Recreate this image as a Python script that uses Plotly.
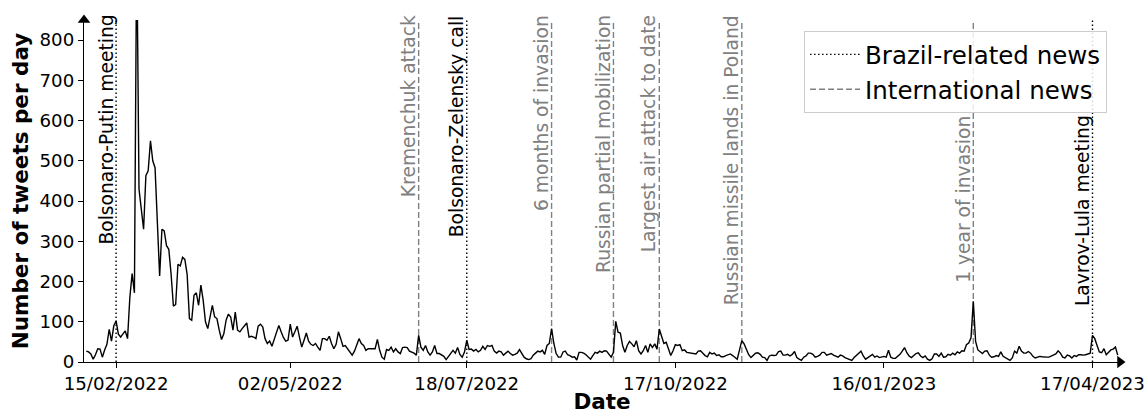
import pandas as pd
import plotly.graph_objects as go

# ---------------- data (daily tweet counts) ----------------
start_date = "2022-02-02"

tweets_feb_2022 = [27, 25, 20, 7, 18, 33, 32, 12, 30, 44, 81, 52, 90, 102, 69, 62, 70, 77, 58, 160, 220, 172]
tweets_invasion = [1050, 430, 380, 330, 463, 475, 550, 500, 483, 334, 214, 330, 326, 289, 280, 218, 139, 143,
                   243, 239, 260, 255, 218]
tweets_mar_apr_2022 = [108, 104, 166, 172, 141, 191, 153, 100, 83, 108, 141, 112, 108, 79, 56, 70, 104, 119, 112, 79,
                       124, 79, 75, 83, 91, 97, 62, 64, 62, 58, 89, 94, 87, 58, 46, 52, 39, 58, 75, 91,
                       75, 61, 52, 54, 94]
tweets_may_jun_2022 = [62, 75, 89, 62, 37, 54, 72, 52, 44, 41, 46, 37, 29, 58, 58, 54, 64, 46, 33, 44,
                       75, 58, 39, 41, 33, 27, 17, 27, 44, 58, 46, 41, 29, 33, 33, 33, 33, 56, 29]
tweets_jun_aug_2022 = [12, 7, 31, 29, 37, 25, 33, 25, 21, 36, 37, 36, 27, 25, 22, 17, 66, 37, 29, 41,
                       25, 17, 25, 41, 21, 21, 17, 14, 6, 14, 22, 29, 22, 36, 19, 12, 25, 54, 31, 32,
                       27, 31, 25, 29, 39, 31, 41, 39, 41, 27, 22, 27, 25, 17, 22, 27, 21, 17, 19, 22,
                       31, 21, 12, 8, 6, 8, 17, 22, 27, 25, 29, 19, 41, 46, 83, 46, 21, 12, 12, 25]
tweets_sep_nov_2022 = [27, 18, 16, 12, 13, 5, 24, 24, 22, 18, 12, 7, 16, 24, 22, 27, 24, 28, 27, 20,
                       12, 24, 101, 74, 72, 41, 24, 41, 51, 45, 38, 53, 28, 20, 28, 41, 24, 45, 36, 45,
                       32, 82, 61, 46, 49, 32, 16, 28, 43, 41, 43, 28, 30, 24, 23, 22, 20, 20, 27, 28,
                       22, 16, 13, 24, 20, 22, 16, 18, 13, 13, 16, 18, 20, 16, 12, 7, 30, 53, 45, 32, 18]
tweets_nov_2022_feb_2023 = [11, 17, 22, 23, 19, 12, 11, 4, 15, 17, 16, 17, 26, 27, 17, 17, 19, 15, 19, 26,
                            11, 7, 4, 12, 15, 22, 22, 19, 12, 14, 17, 24, 24, 17, 19, 21, 17, 15, 12, 17,
                            15, 11, 9, 7, 4, 11, 17, 23, 27, 15, 7, 11, 14, 19, 12, 15, 11, 12, 14, 12,
                            29, 12, 9, 9, 14, 19, 27, 36, 23, 15, 11, 17, 21, 23, 15, 11, 15, 7, 4, 8, 20]
tweets_feb_apr_2023 = [20, 14, 22, 12, 13, 19, 17, 22, 18, 25, 22, 28, 27, 43, 47, 60, 151, 51, 30, 25,
                       21, 27, 28, 17, 12, 13, 16, 14, 25, 14, 10, 6, 4, 10, 27, 22, 39, 27, 22, 22,
                       26, 22, 14, 10, 12, 14, 13, 12, 12, 12, 15, 16, 20, 28, 22, 12, 10, 17, 15, 10,
                       16, 14, 18, 18, 17, 18, 20, 22, 66, 58, 41, 25, 23, 33, 18, 23, 30, 32, 37, 17]

tweets = (tweets_feb_2022 + tweets_invasion + tweets_mar_apr_2022 + tweets_may_jun_2022
          + tweets_jun_aug_2022 + tweets_sep_nov_2022 + tweets_nov_2022_feb_2023 + tweets_feb_apr_2023)
dates = pd.date_range(start_date, periods=len(tweets), freq="D")

tick_dates = ["2022-02-15", "2022-05-02", "2022-07-18", "2022-10-17", "2023-01-16", "2023-04-17"]
tick_labels = ["15/02/2022", "02/05/2022", "18/07/2022", "17/10/2022", "16/01/2023", "17/04/2023"]
y_ticks = [0, 100, 200, 300, 400, 500, 600, 700, 800]

event_dates = ["2022-02-15", "2022-06-27", "2022-07-18", "2022-08-24", "2022-09-20",
               "2022-10-10", "2022-11-15", "2023-02-24", "2023-04-17"]
event_labels = ["Bolsonaro-Putin meeting", "Kremenchuk attack", "Bolsonaro-Zelensky call",
                "6 months of invasion", "Russian partial mobilization", "Largest air attack to date",
                "Russian missile lands in Poland", "1 year of invasion", "Lavrov-Lula meeting"]
event_kinds = ["brazil", "intl", "brazil", "intl", "intl", "intl", "intl", "intl", "brazil"]
# label tops sit at the top of the axes, except the two below the legend
event_label_top = [1.0, 1.0, 1.0, 1.0, 1.0, 1.0, 1.0, 0.706, 0.706]

x_range = ["2022-02-01", "2023-04-29"]
y_range = [0, 850]

# ---------------- styling ----------------
FONT = "DejaVu Sans"
GREY = "#808080"
kind_style = {
    "brazil": dict(color="black", dash="1.5px,2.5px", text="black", name="Brazil-related news"),
    "intl": dict(color=GREY, dash="6px,3px", text=GREY, name="International news"),
}

fig = go.Figure()
fig.add_trace(go.Scatter(x=dates, y=tweets, mode="lines", line=dict(color="black", width=1.4),
                         showlegend=False, hoverinfo="skip"))

shapes, annotations = [], []
for d, lab, k, top in zip(event_dates, event_labels, event_kinds, event_label_top):
    st = kind_style[k]
    shapes.append(dict(type="line", xref="x", yref="paper", x0=d, x1=d, y0=0, y1=1,
                       line=dict(color=st["color"], width=1.4, dash=st["dash"]), layer="below"))
    annotations.append(dict(x=d, y=top, xref="x", yref="paper", text=lab, textangle=-90,
                            xanchor="right", yanchor="top", showarrow=False, xshift=2, yshift=7,
                            font=dict(family=FONT, size=18.7, color=st["text"])))

# legend entries
for k in ["brazil", "intl"]:
    st = kind_style[k]
    fig.add_trace(go.Scatter(x=[None], y=[None], mode="lines", name=st["name"],
                             line=dict(color=st["color"], width=1.4, dash=st["dash"])))

# axis arrows
fig.add_trace(go.Scatter(x=[x_range[1]], y=[y_range[0]], mode="markers", cliponaxis=False,
                         marker=dict(symbol="triangle-right", size=11, color="black"),
                         showlegend=False, hoverinfo="skip"))
fig.add_trace(go.Scatter(x=[x_range[0]], y=[y_range[1]], mode="markers", cliponaxis=False,
                         marker=dict(symbol="triangle-up", size=11, color="black"),
                         showlegend=False, hoverinfo="skip"))

fig.update_layout(
    width=1145, height=414,
    margin=dict(l=84, r=25, t=20, b=52),
    paper_bgcolor="white", plot_bgcolor="white",
    font=dict(family=FONT, size=18, color="black"),
    shapes=shapes, annotations=annotations,
    legend=dict(x=0.9875, y=0.968, xanchor="right", yanchor="top", itemwidth=50,
                bgcolor="rgba(255,255,255,0.85)", bordercolor="#cccccc", borderwidth=1,
                font=dict(family=FONT, size=24.5, color="black")),
    xaxis=dict(type="date", range=x_range, showgrid=False, zeroline=False, automargin=False,
               showline=True, linecolor="black", linewidth=1.3,
               ticks="outside", ticklen=5, tickwidth=1.3, tickcolor="black",
               tickvals=tick_dates, ticktext=tick_labels, tickfont=dict(size=18.2),
               title=dict(text="<b>Date</b>", font=dict(size=21.5), standoff=4)),
    yaxis=dict(range=y_range, showgrid=False, zeroline=False, automargin=False,
               showline=True, linecolor="black", linewidth=1.3,
               ticks="outside", ticklen=5, tickwidth=1.3, tickcolor="black",
               tickvals=y_ticks, tickfont=dict(size=18.2),
               title=dict(text="<b>Number of tweets per day</b>", font=dict(size=21.5), standoff=4)),
)

# remove the page's default 8px body margin so the figure fills the window exactly
fig.write_html("out.html", config={"displayModeBar": False},
               post_script="document.body.style.margin='0';")
